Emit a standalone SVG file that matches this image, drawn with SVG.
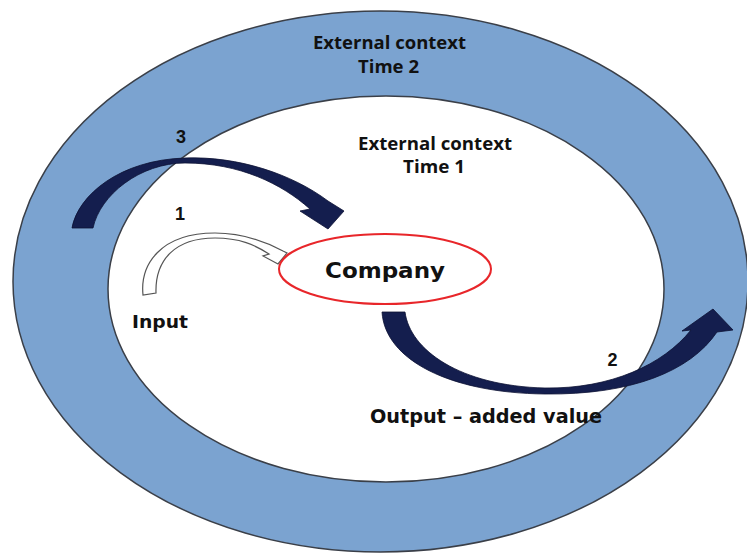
<svg xmlns="http://www.w3.org/2000/svg" width="747" height="553" viewBox="0 0 747 553">
<style>
.ring{fill:#7BA3D0;stroke:#3a3f48;stroke-width:1.5}
.inner{fill:#ffffff;stroke:#3a3f48;stroke-width:1.5}
.dark{fill:#141E4E;stroke:#0c1233;stroke-width:0.8}
.hollow{fill:#ffffff;stroke:#555;stroke-width:1.2}
.ctx{font-family:"Open Sans","Liberation Sans",sans-serif;font-weight:bold;font-size:17px;fill:#111;text-anchor:middle}
.lbl{font-family:"DejaVu Sans","Liberation Sans",sans-serif;font-weight:bold;fill:#111}
.num{font-family:"Liberation Sans",Arial,sans-serif;font-weight:bold;font-size:18px;fill:#111;text-anchor:middle}
</style>
<rect width="747" height="553" fill="#ffffff"/>
<g id="context-time2">
<ellipse class="ring" cx="380.5" cy="281.5" rx="367.5" ry="270.5"/>
<text class="ctx" x="389.5" y="49" textLength="153" lengthAdjust="spacingAndGlyphs">External context</text>
<text class="ctx" x="388.5" y="73" textLength="61" lengthAdjust="spacingAndGlyphs">Time 2</text>
</g>
<g id="context-time1">
<ellipse class="inner" cx="386" cy="289" rx="278" ry="193"/>
<text class="ctx" x="435" y="150" textLength="154" lengthAdjust="spacingAndGlyphs">External context</text>
<text class="ctx" x="434" y="173" textLength="62" lengthAdjust="spacingAndGlyphs">Time 1</text>
</g>
<g id="connectors">
<path id="arrow3" class="dark" d="M72,228 C78,195 120,160 185,158 C238,156 292,174 328,201 L344,211 L328,229 L300,211 L310,209 C282,184 240,163 185,163 C140,163 100,195 93,228 Z"/>
<path id="arrow2" class="dark" d="M382,312 L405,312 C410,350 460,386 545,388 C610,389 663,365 691,330 L682,331 L713,309 L733,330 L717,332 C690,372 630,395 545,394 C450,393 385,360 382,312 Z"/>
<path id="arrow1" class="hollow" d="M143,295 C140,265 160,233 215,233 C245,233 268,243 283,251 L287,253 L278,264 L263,256 L269,254 C255,245 240,238 215,238 C175,238 155,260 156,293 Z"/>
<text class="num" x="181" y="143">3</text>
<text class="num" x="180" y="220">1</text>
<text class="num" x="612.5" y="366">2</text>
<text class="lbl" x="132" y="328" font-size="18" textLength="56" lengthAdjust="spacingAndGlyphs">Input</text>
<text class="lbl" x="370" y="423" font-size="19" textLength="232" lengthAdjust="spacingAndGlyphs">Output – added value</text>
</g>
<g id="company">
<ellipse cx="385" cy="269" rx="106" ry="35" fill="#ffffff" stroke="#E8262A" stroke-width="2"/>
<text class="lbl" x="385" y="278" font-size="22" text-anchor="middle" textLength="120" lengthAdjust="spacingAndGlyphs">Company</text>
</g>
</svg>
